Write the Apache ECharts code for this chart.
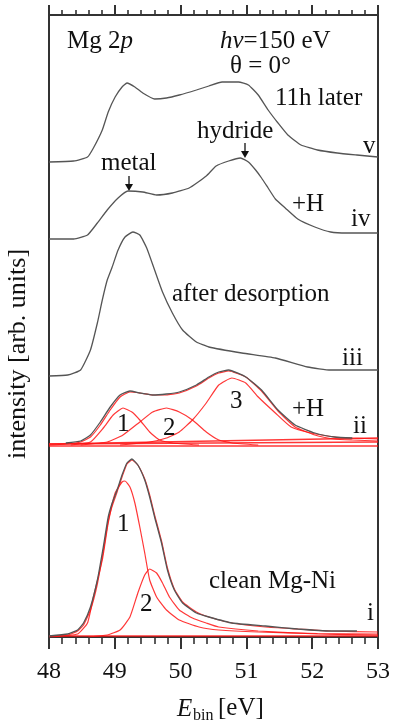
<!DOCTYPE html>
<html>
<head>
<meta charset="utf-8">
<script src="https://cdn.jsdelivr.net/npm/echarts@6/dist/echarts.min.js"></script>
<style>
  html, body { margin: 0; padding: 0; background: #fff; }
  #main { width: 393px; height: 724px; }
</style>
</head>
<body>
<div id="main"></div>
<script>
// spectra: [binding energy eV, intensity (arb., stacked)]
var specV = [[48.0,475],[48.375,476],[48.585,480],[48.675,489],[48.81,507],[48.9,525],[49.005,540],[49.11,550],[49.185,554],[49.305,550],[49.425,544],[49.605,538],[49.785,539],[49.98,542],[50.24,547],[50.43,551],[50.63,555],[50.88,555],[51.03,552],[51.18,542],[51.33,527],[51.48,514],[51.63,502],[51.83,492],[52.08,487],[52.38,484],[52.68,482],[53.0,480]]
var specIV = [[48.0,398],[48.375,398],[48.585,402],[48.735,414],[48.885,427],[49.05,439],[49.2,446],[49.425,445],[49.635,442],[49.875,444],[50.13,449],[50.39,461],[50.54,471],[50.73,476],[50.91,479],[51.03,475],[51.14,467],[51.23,459],[51.33,449],[51.44,438],[51.59,429],[51.78,418],[52.04,410],[52.28,405],[52.53,404],[53.0,404]]
var specIII = [[48.0,261],[48.285,262],[48.48,267],[48.63,287],[48.735,314],[48.81,337],[48.885,357],[48.96,370],[49.05,387],[49.155,400],[49.275,405],[49.38,402],[49.485,389],[49.605,367],[49.725,345],[49.875,324],[50.03,307],[50.24,295],[50.43,290],[50.93,284],[51.44,279],[51.93,270],[52.28,267],[53.0,267]]
var specII = [[48.255,194],[48.48,196],[48.63,202],[48.78,215],[48.93,230],[49.08,242],[49.23,246],[49.38,244],[49.575,242],[49.785,243],[49.98,245],[50.24,252],[50.43,260],[50.58,265],[50.73,267],[50.99,260],[51.23,247],[51.48,227],[51.74,212],[52.04,204],[52.34,200],[52.61,199]]
var fitII = [[48.0,192],[48.255,193],[48.48,195],[48.63,200],[48.78,212],[48.93,227],[49.08,240],[49.23,245],[49.38,244],[49.575,242],[49.785,242],[49.98,244],[50.24,251],[50.43,259],[50.58,264],[50.73,266],[50.99,260],[51.23,246],[51.48,226],[51.74,210],[52.04,202],[52.34,198],[52.61,197],[53.0,196]]
var compII1 = [[48.33,192],[48.63,195],[48.825,209],[48.975,222],[49.125,229],[49.26,225],[49.38,217],[49.53,205],[49.68,197],[49.875,194],[50.28,192]]
var compII2 = [[48.48,192],[48.885,195],[49.125,202],[49.38,215],[49.575,225],[49.785,229],[49.98,225],[50.18,217],[50.39,205],[50.58,197],[50.78,194],[51.18,192]]
var compII3 = [[49.08,192],[49.53,195],[49.785,199],[49.98,205],[50.18,217],[50.39,234],[50.58,252],[50.78,259],[50.99,254],[51.18,240],[51.44,224],[51.68,210],[51.98,204],[52.34,200],[52.58,199],[53.0,198]]
var bgII = [
  [[48.0,191],[53.0,191]],
  [[48.0,193],[53.0,195]],
  [[48.0,193],[53.0,199]]
]
var specI = [[48.0,1],[48.285,3],[48.435,7],[48.525,14],[48.63,30],[48.735,57],[48.825,90],[48.9,120],[48.96,134],[49.035,147],[49.11,162],[49.185,174],[49.26,178],[49.35,172],[49.455,157],[49.53,140],[49.605,120],[49.71,94],[49.8,67],[49.905,47],[50.03,34],[50.24,24],[50.43,20],[50.78,14],[51.29,11],[51.78,8],[52.28,6],[52.68,6]]
var fitI = [[48.0,1],[48.285,2],[48.435,6],[48.525,12],[48.63,27],[48.735,53],[48.825,86],[48.9,116],[48.96,131],[49.035,145],[49.11,160],[49.185,173],[49.26,177],[49.35,172],[49.455,158],[49.53,142],[49.605,122],[49.71,96],[49.8,69],[49.905,48],[50.03,35],[50.24,25],[50.43,20],[50.78,14],[51.29,10],[51.78,8],[52.28,6],[53.0,5]]
var compI1 = [[48.0,0],[48.435,3],[48.585,14],[48.675,40],[48.81,77],[48.9,114],[49.005,144],[49.11,155],[49.155,156],[49.23,150],[49.305,134],[49.38,110],[49.455,84],[49.53,57],[49.635,40],[49.785,27],[49.98,17],[50.28,10],[50.58,7],[51.18,5],[52.08,3.5],[53.0,3]]
var compI2 = [[48.6,0],[48.885,2],[49.08,7],[49.23,20],[49.35,44],[49.455,62],[49.53,68],[49.635,64],[49.725,54],[49.83,40],[49.98,27],[50.18,19],[50.39,14],[50.58,10],[51.18,6],[52.08,3],[53.0,2]]
var bgI = [[48.0,1],[53.0,1]]

var serif = '"Liberation Serif", "Times New Roman", serif'
var ink = '#111'
var fs = 25

var chart = echarts.init(document.getElementById('main'))

function red (data, width) {
  return {
    type: 'line', data: data, showSymbol: false, smooth: 0.15, silent: true,
    lineStyle: { color: 'rgba(255, 20, 20, .85)', width: width || 1.2 }
  }
}
function gray (data) {
  return {
    type: 'line', data: data, showSymbol: false, smooth: 0.15, silent: true,
    lineStyle: { color: '#555', width: 1.3 }
  }
}

// text placed by its baseline
function label (x, base, text, size, rich) {
  size = size || fs
  return {
    type: 'text', x: x, y: base - 0.33 * size, z: 10,
    style: {
      text: text, fill: ink, font: size + 'px ' + serif,
      align: 'left', verticalAlign: 'middle', rich: rich
    }
  }
}
function arrow (x, y0, y1) {
  return [
    { type: 'line', shape: { x1: x, y1: y0, x2: x, y2: y1 - 6 }, style: { stroke: ink, lineWidth: 1.3 } },
    { type: 'polygon', shape: { points: [[x - 4, y1 - 7], [x + 4, y1 - 7], [x, y1]] }, style: { fill: ink } }
  ]
}

var it = { fontStyle: 'italic', fontSize: fs, fontFamily: serif, color: ink }

var series = []
bgII.forEach(function (d) { series.push(red(d, 1.6)) })
series.push(red(bgI, 1.6))
series.push(red(compII1), red(compII2), red(compII3), red(fitII))
series.push(red(compI1), red(compI2), red(fitI))
series.push(gray(specV), gray(specIV), gray(specIII), gray(specII), gray(specI))

var axisColor = '#333'
chart.setOption({
  animation: false,
  grid: { left: 49, right: 8, top: 15, bottom: 87 },
  xAxis: [
    {
      type: 'value', position: 'bottom', min: 48, max: 53, interval: 1,
      axisLine: { onZero: false, lineStyle: { color: axisColor, width: 2 } },
      axisTick: { length: 12, lineStyle: { color: axisColor, width: 2 } },
      minorTick: { show: true, splitNumber: 5, length: 7, lineStyle: { color: axisColor, width: 1.6 } },
      splitLine: { show: false },
      axisLabel: { fontSize: 24, fontFamily: serif, color: ink, margin: 23 }
    },
    {
      type: 'value', position: 'top', min: 48, max: 53, interval: 1,
      axisLine: { onZero: false, lineStyle: { color: axisColor, width: 2 } },
      axisTick: { length: 10, lineStyle: { color: axisColor, width: 2 } },
      minorTick: { show: true, splitNumber: 5, length: 5, lineStyle: { color: axisColor, width: 1.6 } },
      splitLine: { show: false },
      axisLabel: { show: false }
    }
  ],
  yAxis: [
    {
      type: 'value', position: 'left', min: 0, max: 622,
      axisLine: { show: true, onZero: false, lineStyle: { color: axisColor, width: 2 } },
      axisTick: { show: false }, axisLabel: { show: false }, splitLine: { show: false }
    },
    {
      type: 'value', position: 'right', min: 0, max: 622,
      axisLine: { show: true, onZero: false, lineStyle: { color: axisColor, width: 2 } },
      axisTick: { show: false }, axisLabel: { show: false }, splitLine: { show: false }
    }
  ],
  series: series,
  graphic: [
    label(67, 50, 'Mg 2{i|p}', fs, { i: it }),
    label(220, 50, '{i|hν}=150 eV', fs, { i: it }),
    label(230, 75, 'θ = 0°'),
    label(275, 107, '11h later'),
    label(363, 155, 'v'),
    label(197, 140, 'hydride'),
    label(101, 172, 'metal'),
    label(292, 213, '+H'),
    label(351, 228, 'iv'),
    label(172, 303, 'after desorption'),
    label(342, 367, 'iii'),
    label(230, 410, '3'),
    label(117, 433, '1'),
    label(163, 437, '2'),
    label(292, 418, '+H'),
    label(353, 435, 'ii'),
    label(117, 533, '1'),
    label(140, 613, '2'),
    label(209, 590, 'clean Mg-Ni'),
    label(367, 622, 'i'),
    {
      type: 'text', x: 177, y: 717 - 8,
      style: { text: 'E', fill: ink, font: 'italic ' + fs + 'px ' + serif, align: 'left', verticalAlign: 'middle' }
    },
    {
      type: 'text', x: 193, y: 721 - 5,
      style: { text: 'bin', fill: ink, font: '16px ' + serif, align: 'left', verticalAlign: 'middle' }
    },
    label(218, 717, '[eV]'),
    {
      type: 'text', x: 18, y: 354, rotation: Math.PI / 2,
      style: { text: 'intensity [arb. units]', fill: ink, font: '26px ' + serif, align: 'center', verticalAlign: 'middle' }
    }
  ].concat(arrow(129, 176, 191), arrow(245, 143, 158))
})
</script>
</body>
</html>
